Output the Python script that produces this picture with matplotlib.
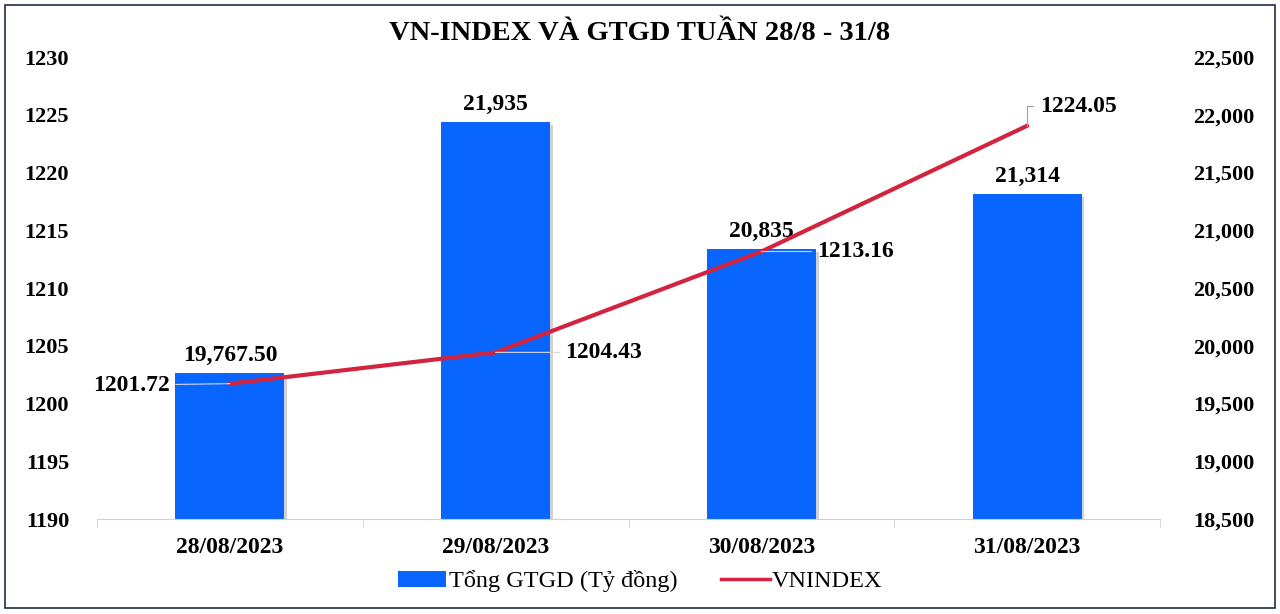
import matplotlib
matplotlib.use("Agg")
import matplotlib.pyplot as plt
import matplotlib.patheffects as pe
from matplotlib.ticker import FuncFormatter, FixedLocator
from matplotlib.patches import Rectangle, Patch
from matplotlib.lines import Line2D

dates = ["28/08/2023", "29/08/2023", "30/08/2023", "31/08/2023"]
gtgd = [19767.50, 21935, 20835, 21314]
gtgd_labels = ["19,767.50", "21,935", "20,835", "21,314"]
vnindex = [1201.72, 1204.43, 1213.16, 1224.05]
vn_labels = ["1201.72", "1204.43", "1213.16", "1224.05"]
title = "VN-INDEX VÀ GTGD TUẦN 28/8 - 31/8"

BLUE = "#0866FF"
RED = "#D3243F"
SERIF = ["Liberation Serif", "DejaVu Serif"]

plt.rcParams["font.family"] = SERIF

fig = plt.figure(figsize=(12.8, 6.14), dpi=100)
ax2 = fig.add_axes([0.0758, 0.1547, 0.8305, 0.7524])  # bars (right scale)
ax = ax2.twinx()
ax.yaxis.tick_left()
ax2.yaxis.tick_right()
ax.set_zorder(ax2.get_zorder() + 1)
ax.patch.set_visible(False)

x = list(range(len(dates)))

bars = ax2.bar(x, gtgd, width=0.41, color=BLUE, zorder=2)
for b in bars:
    b.set_path_effects([pe.SimplePatchShadow(offset=(2, -2), shadow_rgbFace="#999999", alpha=0.45), pe.Normal()])
ax2.set_ylim(18500, 22500)
ax2.set_xlim(-0.5, 3.5)
ax2.yaxis.set_major_locator(FixedLocator(range(18500, 23000, 500)))
ax2.yaxis.set_major_formatter(FuncFormatter(lambda v, p: f"{int(v):,}"))

for xi, v, lab in zip(x, gtgd, gtgd_labels):
    ax2.annotate(lab, (xi, v), xytext=(0, 5), textcoords="offset points",
                 ha="center", va="bottom", fontsize=17, fontweight="bold")

ax.plot(x, vnindex, color=RED, lw=3, solid_capstyle="round", zorder=3)
ax.set_ylim(1190, 1230)
ax.yaxis.set_major_locator(FixedLocator(range(1190, 1231, 5)))

offsets = [(-43, -1, "right"), (50, 0, "left"), (40, 0, "left"), (9, 14, "left")]
for xi, v, lab, (dx, dy, ha) in zip(x, vnindex, vn_labels, offsets):
    if xi == 3:
        ax.annotate(lab, (xi, v), xytext=(dx, dy), textcoords="offset points",
                    ha=ha, va="center", fontsize=17, fontweight="bold",
                    arrowprops=dict(arrowstyle="-", color="#A0A0A0", lw=0.8,
                                    connectionstyle="angle,angleA=0,angleB=90,rad=0",
                                    shrinkA=3, shrinkB=0))
    else:
        ax.annotate(lab, (xi, v), xytext=(dx, dy), textcoords="offset points",
                    ha=ha, va="center", fontsize=17, fontweight="bold",
                    arrowprops=dict(arrowstyle="-", color="#D6D6D6", lw=0.8,
                                    shrinkA=2, shrinkB=0))

for a in (ax, ax2):
    for s in ("top", "left", "right"):
        a.spines[s].set_visible(False)
ax.spines["bottom"].set_visible(False)
ax2.spines["bottom"].set_color("#D0D0D0")

ax.tick_params(axis="y", length=0, pad=20, labelsize=16)
ax2.tick_params(axis="y", length=0, pad=24, labelsize=16)
for lab in ax.get_yticklabels() + ax2.get_yticklabels():
    lab.set_fontweight("bold")

ax2.set_xticks(x)
ax2.set_xticklabels(dates, fontsize=17, fontweight="bold")
ax2.set_xticks([-0.5, 0.5, 1.5, 2.5, 3.5], minor=True)
ax2.tick_params(axis="x", which="major", length=0, pad=13)
ax2.tick_params(axis="x", which="minor", length=6, color="#D0D0D0", direction="out")

fig.text(0.5, 0.946, title, ha="center", va="center", fontsize=20.5, fontweight="bold")

handles = [Patch(facecolor=BLUE, label="Tổng GTGD (Tỷ đồng)"),
           Line2D([0], [0], color=RED, lw=2.5, label="VNINDEX")]
fig.legend(handles=handles, loc="center", bbox_to_anchor=(0.5, 0.053), ncol=2,
           frameon=False, prop={"family": SERIF, "size": 17.5},
           handlelength=2.0, handleheight=0.6, handletextpad=0.1, columnspacing=1.8)

fig.patches.append(Rectangle((0.004, 0.01), 0.992, 0.982, transform=fig.transFigure,
                             fill=False, edgecolor="#1F2D44", lw=1.2))

fig.savefig("out.png", dpi=100)
